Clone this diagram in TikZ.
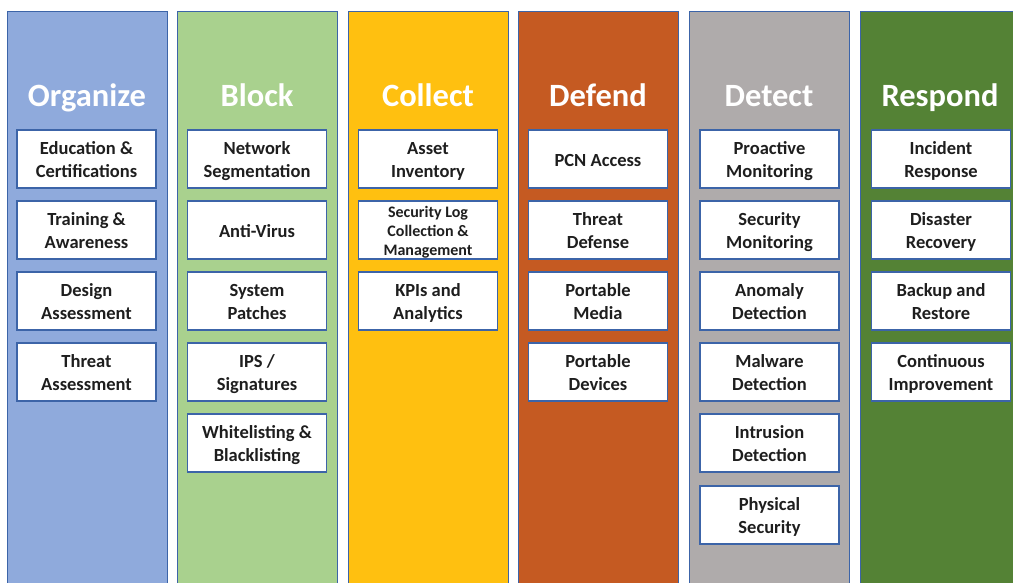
\documentclass[tikz,border=0pt]{standalone}
\usepackage{fontspec}
\setmainfont{Carlito}
\definecolor{cOrg}{HTML}{8FAADC}
\definecolor{cBlk}{HTML}{A9D18E}
\definecolor{cCol}{HTML}{FFC010}
\definecolor{cDef}{HTML}{C55A22}
\definecolor{cDet}{HTML}{AFABAB}
\definecolor{cRes}{HTML}{548235}
\definecolor{cEdge}{HTML}{3C64A8}
\definecolor{cTxt}{HTML}{1E1E1E}
\newcommand\boxtext[1]{\raisebox{-2.5pt}[\height][\depth]{\begin{tabular}{@{}c@{}}#1\end{tabular}}}
\tikzset{
  column/.style={draw=cEdge, line width=1pt},
  coltitle/.style={text=white, font=\fontsize{32.5}{36}\selectfont\bfseries, anchor=base, inner sep=0pt},
  item/.style={draw=cEdge, line width=1.4pt, fill=white, minimum width=139pt, minimum height=58pt,
    inner sep=0pt, text=cTxt, font=\fontsize{18.5}{23}\selectfont\bfseries},
  smallitem/.style={item, font=\fontsize{16}{19}\selectfont\bfseries}
}
\begin{document}
\begin{tikzpicture}[x=1pt,y=-1pt]
\useasboundingbox (0,0) rectangle (1013,582);
\clip (0,0) rectangle (1013,582);
% columns
\fill[white] (0,0) rectangle (1013,582);
\draw[column, fill=cOrg] (7,11) rectangle (167,600);
\draw[column, fill=cBlk] (177,11) rectangle (337,600);
\draw[column, fill=cCol] (348,11) rectangle (508,600);
\draw[column, fill=cDef] (518,11) rectangle (678,600);
\draw[column, fill=cDet] (689,11) rectangle (849,600);
\draw[column, fill=cRes] (860,11) rectangle (1030,600);
% titles
\node[coltitle] (tOrg) at (87,106) {Organize};
\node[coltitle] (tBlk) at (257,106) {Block};
\node[coltitle] (tCol) at (428,106) {Collect};
\node[coltitle] (tDef) at (598,106) {Defend};
\node[coltitle] (tDet) at (769,106) {Detect};
\node[coltitle] (tRes) at (940,106) {Respond};
% Organize
\node[item] (o1) at (86.5,159) {\boxtext{Education \&\\Certifications}};
\node[item] (o2) at (86.5,230) {\boxtext{Training \&\\Awareness}};
\node[item] (o3) at (86.5,301) {\boxtext{Design\\Assessment}};
\node[item] (o4) at (86.5,372) {\boxtext{Threat\\Assessment}};
% Block
\node[item] (b1) at (257,159) {\boxtext{Network\\Segmentation}};
\node[item] (b2) at (257,230) {\boxtext{Anti-Virus}};
\node[item] (b3) at (257,301) {\boxtext{System\\Patches}};
\node[item] (b4) at (257,372) {\boxtext{IPS /\\Signatures}};
\node[item] (b5) at (257,443) {\boxtext{Whitelisting \&\\Blacklisting}};
% Collect
\node[item] (c1) at (428,159) {\boxtext{Asset\\Inventory}};
\node[smallitem] (c2) at (428,230) {\boxtext{Security Log\\Collection \&\\Management}};
\node[item] (c3) at (428,301) {\boxtext{KPIs and\\Analytics}};
% Defend
\node[item] (d1) at (598,159) {\boxtext{PCN Access}};
\node[item] (d2) at (598,230) {\boxtext{Threat\\Defense}};
\node[item] (d3) at (598,301) {\boxtext{Portable\\Media}};
\node[item] (d4) at (598,372) {\boxtext{Portable\\Devices}};
% Detect
\node[item] (e1) at (769.5,159) {\boxtext{Proactive\\Monitoring}};
\node[item] (e2) at (769.5,230) {\boxtext{Security\\Monitoring}};
\node[item] (e3) at (769.5,301) {\boxtext{Anomaly\\Detection}};
\node[item] (e4) at (769.5,372) {\boxtext{Malware\\Detection}};
\node[item] (e5) at (769.5,443) {\boxtext{Intrusion\\Detection}};
\node[item] (e6) at (769.5,515) {\boxtext{Physical\\Security}};
% Respond
\node[item] (r1) at (941,159) {\boxtext{Incident\\Response}};
\node[item] (r2) at (941,230) {\boxtext{Disaster\\Recovery}};
\node[item] (r3) at (941,301) {\boxtext{Backup and\\Restore}};
\node[item] (r4) at (941,372) {\boxtext{Continuous\\Improvement}};
\end{tikzpicture}
\end{document}
